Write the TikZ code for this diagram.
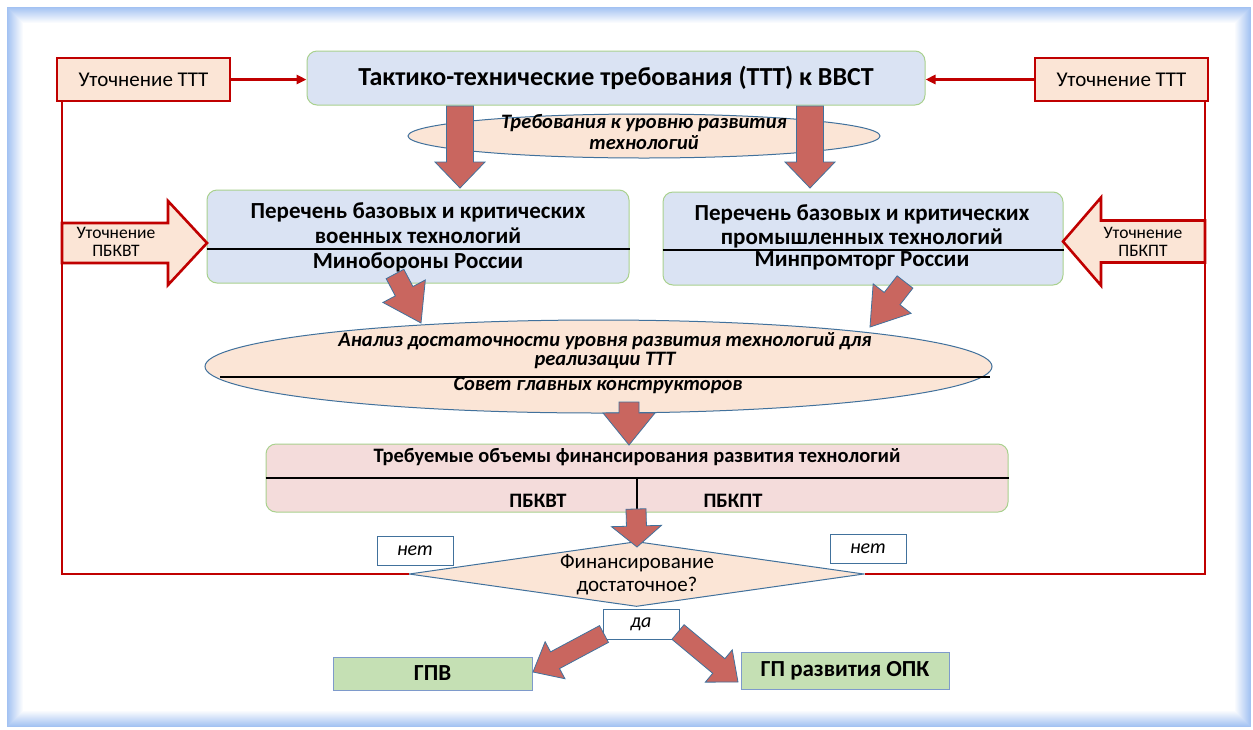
\documentclass[tikz,border=0pt]{standalone}
\usepackage{fontspec}
\setmainfont{Carlito}
\usetikzlibrary{calc,arrows.meta,shapes.geometric}
\definecolor{bxblue}{HTML}{DAE3F3}
\definecolor{bxgreen}{HTML}{A9D18E}
\definecolor{peach}{HTML}{FBE5D6}
\definecolor{dred}{HTML}{C00000}
\definecolor{arrfill}{HTML}{C9665F}
\definecolor{arrline}{HTML}{41719C}
\definecolor{pinkbx}{HTML}{F4DCDB}
\definecolor{grnbx}{HTML}{C5E0B4}
\definecolor{grnline}{HTML}{7E9ACB}
\definecolor{frameblue}{HTML}{A3C2F2}
\newcommand\fs[1]{\fontsize{#1pt}{#1pt}\selectfont}
\newcommand\blockarr[6]{%
  \path (#2) coordinate (ba-tip) ($(#2)!#5!(#1)$) coordinate (ba-base);
  \filldraw[#6] ($(#1)!#3!90:(#2)$) -- ($(ba-base)!#3!90:(ba-tip)$) -- ($(ba-base)!#4!90:(ba-tip)$) -- (ba-tip) -- ($(ba-base)!#4!-90:(ba-tip)$) -- ($(ba-base)!#3!-90:(ba-tip)$) -- ($(#1)!#3!-90:(#2)$) -- cycle;}
\begin{document}
\begin{tikzpicture}[x=1pt,y=-1pt,
  tbox/.style={draw=bxgreen, fill=bxblue, rounded corners=10pt, line width=1pt, inner sep=0pt},
  redbox/.style={draw=dred, fill=peach, line width=2.6pt, inner sep=0pt},
  rline/.style={draw=dred, line width=2.6pt},
  ell/.style={ellipse, draw=arrline, fill=peach, line width=1pt, inner sep=0pt},
  wbox/.style={draw=arrline, fill=white, line width=1pt, inner sep=0pt, font=\fs{20}\itshape},
  gbox/.style={draw=grnline, fill=grnbx, line width=1pt, inner sep=0pt, font=\fs{23}\bfseries},
  txt/.style={inner sep=0pt},
  barr/.style={fill=arrfill, draw=arrline, line width=0.8pt, line join=miter},
  parr/.style={fill=peach, draw=dred, line width=2.6pt, line join=miter}]
\useasboundingbox (0,0) rectangle (1253,729);
\foreach \i in {0,...,16} {
  \pgfmathsetmacro\m{100-\i*100/16}
  \fill[frameblue!\m!white] (7+\i,7+\i) rectangle (1251-\i,727-\i);
}
% boxes
\node[tbox, minimum width=618pt, minimum height=54pt, font=\fs{26}\bfseries] (ttt) at (616,78) {Тактико-технические требования (ТТТ) к ВВСТ};
\node[redbox, minimum width=173pt, minimum height=43pt, font=\fs{21}] (lt) at (143.5,79.5) {Уточнение ТТТ};
\node[redbox, minimum width=173pt, minimum height=43pt, font=\fs{21}] (rt) at (1121.5,79.5) {Уточнение ТТТ};
\node[ell, minimum width=472pt, minimum height=44pt] (e1) at (644,136) {};
\node[tbox, minimum width=422pt, minimum height=93pt] (mo) at (418,236.5) {};
\node[tbox, minimum width=400pt, minimum height=93pt] (mp) at (863,238.5) {};
\node[ell, minimum width=787pt, minimum height=93pt] (e2) at (598.5,366.5) {};
\node[tbox, fill=pinkbx, minimum width=742pt, minimum height=68pt] (fin) at (637,478) {};
\node[diamond, draw=arrline, fill=peach, line width=1pt, inner sep=0pt, minimum width=455pt, minimum height=65pt] (dm) at (636.5,574) {};
\node[wbox, minimum width=76pt, minimum height=29pt] (n1) at (415,550.5) {нет};
\node[wbox, minimum width=76pt, minimum height=29pt] (n2) at (868,548.5) {нет};
\node[wbox, minimum width=76pt, minimum height=30pt] (da) at (641,624) {да};
\node[gbox, minimum width=199pt, minimum height=33pt] (gpv) at (432.5,673.5) {ГПВ};
\node[gbox, minimum width=208pt, minimum height=37pt] (gpo) at (845,670.5) {ГП развития ОПК};
% texts
\node[txt, font=\fs{20.5}\bfseries\itshape] (e1a) at (644,123) {Требования к уровню развития};
\node[txt, font=\fs{20.5}\bfseries\itshape] (e1b) at (644,143) {технологий};
\node[txt, font=\fs{23}\bfseries] (moa) at (418,212) {Перечень базовых и критических};
\node[txt, font=\fs{23}\bfseries] (mob) at (418,236) {военных технологий};
\node[txt, font=\fs{23}\bfseries] (moc) at (418,262) {Минобороны России};
\draw[line width=1.4pt] (mo.west |- 0,249) -- (mo.east |- 0,249);
\node[txt, font=\fs{23}\bfseries] (mpa) at (862,214) {Перечень базовых и критических};
\node[txt, font=\fs{23}\bfseries] (mpb) at (862,238) {промышленных технологий};
\node[txt, font=\fs{23}\bfseries] (mpc) at (862,261) {Минпромторг России};
\draw[line width=1.4pt] (mp.west |- 0,250) -- (mp.east |- 0,250);
\node[txt, font=\fs{20.5}\bfseries\itshape] (e2a) at (605,341) {Анализ достаточности уровня развития технологий для};
\node[txt, font=\fs{20.5}\bfseries\itshape] (e2b) at (605,361) {реализации ТТТ};
\draw[line width=1.4pt] (220,377) -- (990,377);
\node[txt, font=\fs{20.5}\bfseries\itshape] (e2c) at (598,385) {Совет главных конструкторов};
\node[txt, font=\fs{20.5}\bfseries] (fina) at (637,457) {Требуемые объемы финансирования развития технологий};
\draw[line width=1.4pt] (fin.west |- 0,478) -- (fin.east |- 0,478);
\draw[line width=1.4pt] (637,478) -- (fin.south);
\node[txt, font=\fs{20.5}\bfseries] (finb) at (538,501) {ПБКВТ};
\node[txt, font=\fs{20.5}\bfseries] (finc) at (733,501) {ПБКПТ};
\node[txt, font=\fs{21}] (dma) at (637,563) {Финансирование};
\node[txt, font=\fs{21}] (dmb) at (637,586) {достаточное?};
% red connectors
\draw[rline, -{Triangle[length=10pt,width=9pt]}] (lt.east) -- (lt.east -| ttt.west);
\draw[rline, -{Triangle[length=10pt,width=9pt]}] (rt.west) -- (rt.west -| ttt.east);
\coordinate (lc) at (62,574);
\coordinate (rc) at (1205,574);
\draw[rline] (dm.west) -- (lc) -- (lc |- lt.south);
\draw[rline] (dm.east) -- (rc) -- (rc |- rt.south);
% peach block arrows
\coordinate (pa1) at (62,243);
\coordinate (pa1t) at (207,243);
\blockarr{pa1}{pa1t}{20pt}{42pt}{39pt}{parr}
\node[txt, font=\fs{17.5}, align=center] (pa1l) at (116,242) {Уточнение\\ПБКВТ};
\coordinate (pa2) at (1205,241.5);
\coordinate (pa2t) at (1063,241.5);
\blockarr{pa2}{pa2t}{21pt}{44pt}{38pt}{parr}
\node[txt, font=\fs{17.5}, align=center] (pa2l) at (1143,242) {Уточнение\\ПБКПТ};
% red-brown block arrows
\coordinate (a1s) at (460,106); \coordinate (a1t) at (460,188);
\blockarr{a1s}{a1t}{13.5pt}{25pt}{26pt}{barr}
\coordinate (a2s) at (810,106); \coordinate (a2t) at (810,188);
\blockarr{a2s}{a2t}{13.5pt}{25pt}{26pt}{barr}
\coordinate (a3s) at (395,274); \coordinate (a3t) at (421,323);
\blockarr{a3s}{a3t}{10pt}{24pt}{36pt}{barr}
\coordinate (a4s) at (905,282); \coordinate (a4t) at (870,327);
\blockarr{a4s}{a4t}{10pt}{24pt}{36pt}{barr}
\coordinate (a5s) at (629,402); \coordinate (a5t) at (629,445);
\blockarr{a5s}{a5t}{10pt}{26pt}{32pt}{barr}
\coordinate (a6s) at (636,509); \coordinate (a6t) at (637,547);
\blockarr{a6s}{a6t}{10pt}{25pt}{21pt}{barr}
\coordinate (a7s) at (604,634); \coordinate (a7t) at (533,672);
\blockarr{a7s}{a7t}{9.5pt}{21pt}{25pt}{barr}
\coordinate (a8s) at (678,632); \coordinate (a8t) at (738,682);
\blockarr{a8s}{a8t}{9.5pt}{21pt}{25pt}{barr}
\end{tikzpicture}
\end{document}
